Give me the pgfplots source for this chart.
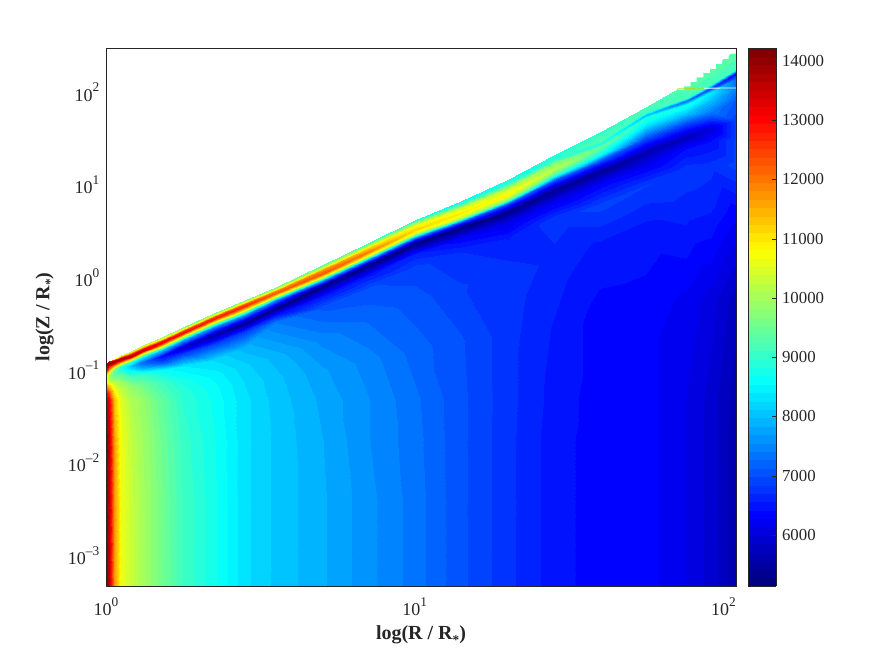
\documentclass[border=0pt]{standalone}
\usepackage{fontspec}
\setmainfont{Liberation Serif}
\usepackage{pgfplots}
\pgfplotsset{compat=1.18}
\definecolor{axgray}{gray}{0.15}
\newcommand{\lowstar}{\raisebox{-0.55ex}{\fontsize{10}{11}\selectfont *}}
\newcommand{\sps}[1]{\raisebox{0.52em}{\fontsize{10}{11}\selectfont #1}}
\pgfplotsset{
  colormap={jetbase}{rgb255(0pt)=(0,0,128); rgb255(1pt)=(0,0,255); rgb255(3pt)=(0,255,255); rgb255(5pt)=(255,255,0); rgb255(7pt)=(255,0,0); rgb255(8pt)=(128,0,0)},
  colormap={jetsix}{samples of colormap=(64 of jetbase)},
}
\begin{document}
\begin{tikzpicture}
\path[use as bounding box] (0,0) rectangle (659.25pt,493.5pt);
\begin{axis}[
  at={(79.5pt,54pt)}, anchor=south west,
  scale only axis, width=472.5pt, height=403.5pt,
  axis on top,
  xmode=log, ymode=log, log basis x=10, log basis y=10,
  xmin=1, xmax=109.9, ymin=0.000468, ymax=300,
  xtick={1,10,100}, xticklabels={10\sps{0},10\sps{1},10\sps{2}},
  ytick={0.001,0.01,0.1,1,10,100},
  yticklabels={10\sps{--3},10\sps{--2},10\sps{--1},10\sps{0},10\sps{1},10\sps{2}},
  major tick length=0pt, minor tick length=0pt,
  minor x tick num=0, minor y tick num=0,
  axis line style={axgray, line width=0.6pt},
  tick label style={font=\fontsize{13.5}{15}\selectfont, text=axgray},
  xticklabel style={yshift=-5pt},
  yticklabel style={xshift=-1.5pt},
  every axis x label/.style={at={(axis description cs:0.5,0)}, anchor=center, yshift=-36.75pt},
  every axis y label/.style={at={(axis description cs:0,0.5)}, anchor=center, xshift=-45.75pt, rotate=90},
  xlabel={\textbf{log(R / R\lowstar)}},
  ylabel={\textbf{log(Z / R\lowstar)}},
  label style={font=\fontsize{15}{17}\selectfont, text=axgray},
  colormap name=jetsix,
  colormap access=piecewise constant,
  point meta min=5139, point meta max=14219,
  colorbar,
  colorbar style={
    at={(parent axis.south east)}, anchor=south west, xshift=0.5pt,
    width=21pt, height=403.5pt,
    ytick={6000,7000,8000,9000,10000,11000,12000,13000,14000},
    scaled y ticks=false,
    yticklabel pos=right, ytick pos=right,
    tick align=inside, major tick length=3pt,
    axis line style={axgray, line width=0.6pt},
    tick style={axgray},
    /pgf/number format/1000 sep={},
    /pgf/number format/assume math mode=true,
    yticklabel style={font=\fontsize{12.6}{14}\selectfont, text=axgray, xshift=1pt},
  },
]
\addplot[surf, shader=interp, mesh/ordering=y varies, mesh/rows=15, mesh/cols=22,
  point meta=\thisrow{T}]
  table[x expr={pow(10,\thisrow{lr})}, y expr={pow(10,\thisrow{lz})}] {
lr lz T
0.000 -3.33 14200
0.000 -2.40 14200
0.000 -1.75 14200
0.000 -1.32 13800
0.000 -1.277 13400
0.000 -1.234 13000
0.000 -1.169 11800
0.000 -1.115 10800
0.000 -1.072 10800
0.000 -1.039 11500
0.000 -1.007 13000
0.000 -0.974 14000
0.000 -0.953 14100
0.000 -0.937 14000
0.000 -0.920 13800
0.010 -3.33 13600
0.010 -2.40 13600
0.010 -1.75 13600
0.010 -1.32 13200
0.010 -1.277 12700
0.010 -1.234 12300
0.010 -1.169 11300
0.010 -1.104 10200
0.010 -1.05 10000
0.010 -1.018 10500
0.010 -0.985 12000
0.010 -0.953 13000
0.010 -0.937 14000
0.010 -0.920 14000
0.010 -0.904 13500
0.025 -3.33 11800
0.025 -2.40 11800
0.025 -1.75 11700
0.025 -1.32 11400
0.025 -1.266 11100
0.025 -1.212 10800
0.025 -1.136 10300
0.025 -1.072 9600
0.025 -1.028 9300
0.025 -0.985 9800
0.025 -0.953 11500
0.025 -0.926 13500
0.025 -0.904 14000
0.025 -0.888 13000
0.025 -0.877 11000
0.050 -3.33 10650
0.050 -2.40 10650
0.050 -1.75 10650
0.050 -1.32 10500
0.050 -1.255 10350
0.050 -1.19 10200
0.050 -1.104 9800
0.050 -1.028 9200
0.050 -0.985 8800
0.050 -0.953 9000
0.050 -0.920 11000
0.050 -0.893 13500
0.050 -0.872 13800
0.050 -0.856 12500
0.050 -0.839 10000
0.080 -3.33 10300
0.080 -2.40 10300
0.080 -1.75 10250
0.080 -1.32 10100
0.080 -1.244 9950
0.080 -1.169 9800
0.080 -1.072 9200
0.080 -0.996 8500
0.080 -0.953 8000
0.080 -0.915 8800
0.080 -0.883 11000
0.080 -0.856 13500
0.080 -0.834 13500
0.080 -0.812 12000
0.080 -0.791 10000
0.120 -3.33 10000
0.120 -2.40 10000
0.120 -1.75 9950
0.120 -1.32 9850
0.120 -1.234 9700
0.120 -1.147 9500
0.120 -1.039 9000
0.120 -0.964 7700
0.120 -0.910 7200
0.120 -0.856 8400
0.120 -0.818 11000
0.120 -0.791 13300
0.120 -0.769 13300
0.120 -0.753 11500
0.120 -0.731 10000
0.180 -3.33 9550
0.180 -2.40 9550
0.180 -1.75 9500
0.180 -1.32 9400
0.180 -1.223 9250
0.180 -1.126 9100
0.180 -0.996 8600
0.180 -0.910 7000
0.180 -0.845 6400
0.180 -0.780 8000
0.180 -0.737 11000
0.180 -0.704 13000
0.180 -0.683 13000
0.180 -0.661 11000
0.180 -0.640 9800
0.250 -3.33 9100
0.250 -2.40 9100
0.250 -1.75 9050
0.250 -1.32 8950
0.250 -1.212 8900
0.250 -1.104 8750
0.250 -0.953 8400
0.250 -0.823 6900
0.250 -0.748 5800
0.250 -0.672 7800
0.250 -0.629 10800
0.250 -0.596 13000
0.250 -0.575 12700
0.250 -0.553 10800
0.250 -0.532 9500
0.350 -3.33 8720
0.350 -2.40 8720
0.350 -1.75 8700
0.350 -1.32 8650
0.350 -1.19 8600
0.350 -1.061 8500
0.350 -0.888 8250
0.350 -0.715 6900
0.350 -0.618 5500
0.350 -0.532 7500
0.350 -0.483 10800
0.350 -0.451 12800
0.350 -0.424 12600
0.350 -0.402 10800
0.350 -0.380 9500
0.450 -3.33 8300
0.450 -2.40 8300
0.450 -1.75 8300
0.450 -1.32 8300
0.450 -1.126 8250
0.450 -0.942 8150
0.450 -0.748 7900
0.450 -0.575 6800
0.450 -0.488 5300
0.450 -0.402 7500
0.450 -0.348 10800
0.450 -0.310 12700
0.450 -0.283 12400
0.450 -0.262 10800
0.450 -0.240 9500
0.550 -3.33 8080
0.550 -2.40 8080
0.550 -1.75 8080
0.550 -1.32 8060
0.550 -1.082 8020
0.550 -0.856 7920
0.550 -0.478 7400
0.550 -0.391 6400
0.550 -0.326 5250
0.550 -0.240 7500
0.550 -0.197 10800
0.550 -0.170 12300
0.550 -0.143 12000
0.550 -0.121 10600
0.550 -0.100 9500
0.700 -3.33 7860
0.700 -2.40 7860
0.700 -1.75 7840
0.700 -1.32 7800
0.700 -0.996 7720
0.700 -0.672 7500
0.700 -0.326 7100
0.700 -0.197 6500
0.700 -0.089 5200
0.700 -0.035 7500
0.700 0.008 10800
0.700 0.041 12300
0.700 0.079 11800
0.700 0.106 10500
0.700 0.138 9300
0.850 -3.33 7600
0.850 -2.40 7600
0.850 -1.75 7560
0.850 -1.32 7560
0.850 -0.888 7480
0.850 -0.456 7250
0.850 -0.110 7000
0.850 0.030 6500
0.850 0.138 5200
0.850 0.192 7300
0.850 0.235 10600
0.850 0.278 12000
0.850 0.322 11200
0.850 0.349 10000
0.850 0.376 9000
1.000 -3.33 7340
1.000 -2.40 7340
1.000 -1.75 7320
1.000 -1.32 7300
1.000 -0.780 7200
1.000 -0.240 7050
1.000 0.106 6900
1.000 0.257 6600
1.000 0.376 5200
1.000 0.430 7200
1.000 0.473 10200
1.000 0.516 11200
1.000 0.559 10800
1.000 0.597 9700
1.000 0.624 8800
1.150 -3.33 7020
1.150 -2.40 7020
1.150 -1.75 7020
1.150 -1.32 7020
1.150 -0.672 7000
1.150 -0.078 6850
1.150 0.278 6700
1.150 0.430 6300
1.150 0.548 5200
1.150 0.602 7000
1.150 0.646 10200
1.150 0.700 11000
1.150 0.754 10400
1.150 0.797 9200
1.150 0.829 8600
1.300 -3.33 6750
1.300 -2.40 6750
1.300 -1.75 6750
1.300 -1.32 6760
1.300 -0.618 6760
1.300 0.030 6800
1.300 0.430 6550
1.300 0.602 6100
1.300 0.710 5250
1.300 0.797 7000
1.300 0.840 9800
1.300 0.894 10900
1.300 0.959 10300
1.300 1.013 9000
1.300 1.056 8700
1.450 -3.33 6480
1.450 -2.40 6480
1.450 -1.75 6480
1.450 -1.32 6500
1.450 -0.564 6540
1.450 0.192 6650
1.450 0.646 6780
1.450 0.840 6100
1.450 0.948 5350
1.450 1.056 7100
1.450 1.110 9200
1.450 1.175 10200
1.450 1.240 9700
1.450 1.283 8900
1.450 1.326 8900
1.600 -3.33 6340
1.600 -2.40 6340
1.600 -1.75 6340
1.600 -1.32 6340
1.600 -0.456 6340
1.600 0.354 6520
1.600 0.786 6900
1.600 1.013 6300
1.600 1.153 5400
1.600 1.261 7000
1.600 1.326 8600
1.600 1.412 9500
1.600 1.445 8800
1.600 1.477 9300
1.600 1.574 9000
1.750 -3.33 6340
1.750 -2.40 6340
1.750 -1.75 6340
1.750 -1.32 6340
1.750 -0.348 6340
1.750 0.570 6520
1.750 1.002 6850
1.750 1.218 6200
1.750 1.358 5600
1.750 1.510 7000
1.750 1.639 8300
1.750 1.726 8900
1.750 1.758 8000
1.750 1.785 9200
1.750 1.844 9200
1.880 -3.33 6130
1.880 -2.40 6130
1.880 -1.75 6130
1.880 -1.32 6130
1.880 -0.240 6240
1.880 0.732 6620
1.880 1.164 6800
1.880 1.402 6400
1.880 1.520 5700
1.880 1.661 6900
1.880 1.769 8000
1.880 1.866 8800
1.880 1.904 7200
1.880 1.942 9200
1.880 2.087 9300
1.960 -3.33 5930
1.960 -2.40 5930
1.960 -1.75 5930
1.960 -1.32 5930
1.960 -0.240 6060
1.960 0.786 6600
1.960 1.218 6750
1.960 1.488 6400
1.960 1.618 6000
1.960 1.790 7400
1.960 1.920 8000
1.960 2.006 8400
1.960 2.050 6800
1.960 2.093 9200
1.960 2.276 9300
2.041 -3.33 5600
2.041 -2.40 5600
2.041 -1.75 5600
2.041 -1.32 5620
2.041 -0.240 5760
2.041 0.678 6300
2.041 1.218 6900
2.041 1.488 6900
2.041 1.704 6900
2.041 1.920 7100
2.041 2.028 7400
2.041 2.158 7200
2.041 2.212 6300
2.041 2.255 9200
2.041 2.460 9300
};
\addplot[fill=white, draw=none, forget plot] coordinates {(71.3,106.7) (74.7,106.7) (74.7,115.9) (78.3,115.9) (78.3,129.2) (82,129.2) (82,144.9) (86.1,144.9) (86.1,161.5) (90.4,161.5) (90.4,178.6) (94.6,178.6) (94.6,202.3) (99.1,202.3) (99.1,229.1) (104,229.1) (104,261.2) (109.9,261.2) (109.9,300) (71.3,300)} -- cycle;
\addplot[white, line width=0.6pt, forget plot] coordinates {(86.5,110.5) (109.9,111)};
\addplot[yellow!70!green, line width=0.5pt, forget plot] coordinates {(71,108.7) (86.5,110.5)};
\end{axis}
\end{tikzpicture}
\end{document}
